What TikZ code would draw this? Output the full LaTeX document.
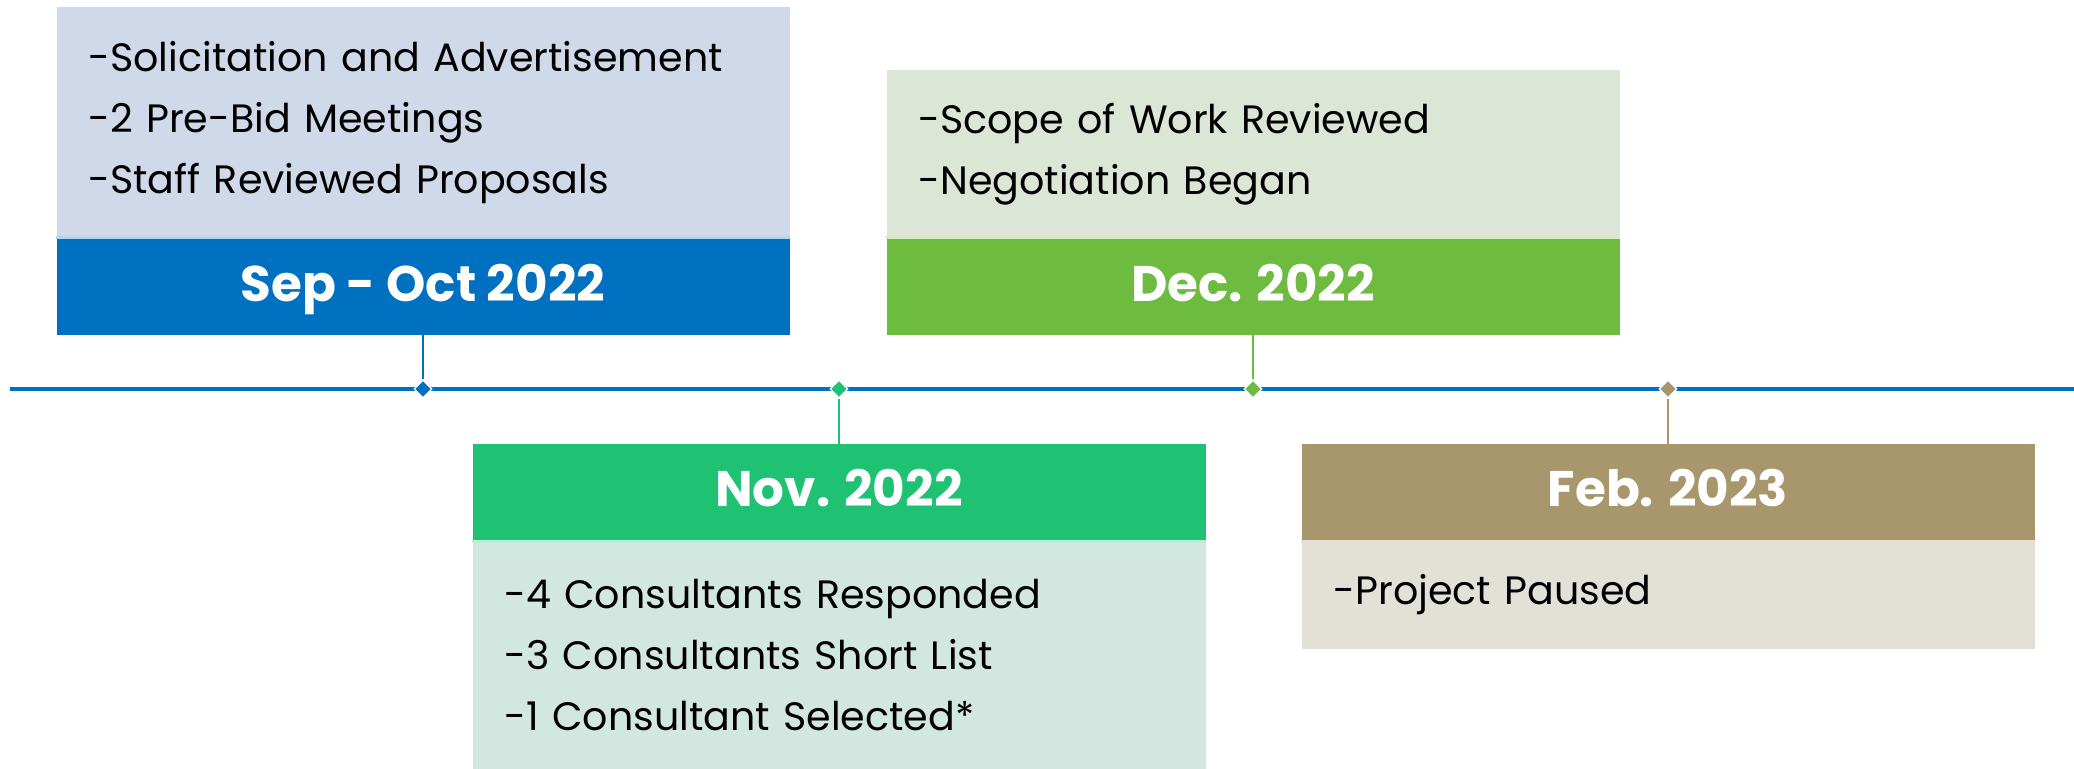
\documentclass[tikz,border=0pt]{standalone}
\usepackage{fontspec}
\setmainfont{Poppins}
\usetikzlibrary{positioning, shapes.geometric}

\definecolor{sepblue}{HTML}{0070C0}
\definecolor{seplight}{HTML}{CFD9EA}
\definecolor{novgreen}{HTML}{1FC173}
\definecolor{novlight}{HTML}{D3E7E1}
\definecolor{decgreen}{HTML}{6DBB3F}
\definecolor{declight}{HTML}{DBE6D6}
\definecolor{febtan}{HTML}{A8976D}
\definecolor{feblight}{HTML}{E3E0D8}

\tikzset{
  band/.style={rectangle, fill=#1, minimum width=366.5pt, minimum height=48pt,
    inner sep=0pt, text=white, text height=14pt, text depth=0pt,
    font=\fontsize{25}{28}\selectfont\bfseries},
  body/.style={rectangle, fill=#1, minimum width=366.5pt, text width=334.5pt,
    inner xsep=16pt, inner ysep=0pt, align=left,
    font=\fontsize{19.8}{30.5}\selectfont},
  tick/.style={diamond, fill=#1, draw=white, line width=0.6pt, inner sep=0pt,
    minimum size=9pt},
  divider/.style={#1!30!white, line width=1.5pt},
}

\begin{document}
\begin{tikzpicture}[x=0.5pt, y=-0.5pt]
  \useasboundingbox (0,0) rectangle (2074,768);
  % timeline
  \coordinate (start) at (10,389);
  \coordinate (end) at (2074,389);
  \draw [sepblue, line width=2pt] (start) -- (end);
  % Sep - Oct
  \node (sepband) at (423,287) [band=sepblue] {Sep - Oct 2022};
  \node (sepbody) [body=seplight, minimum height=115.5pt, above=0pt of sepband]
    {-Solicitation and Advertisement\\-2 Pre-Bid Meetings\\-Staff Reviewed Proposals};
  \draw [divider=sepblue] ([yshift=0.75pt]sepbody.south west) -- ([yshift=0.75pt]sepbody.south east);
  \node (septick) at (423,389) [tick=sepblue] {};
  \draw [sepblue, line width=1pt] (sepband.south) -- (septick.north);
  % Nov
  \node (novband) at (839,492) [band=novgreen] {Nov. 2022};
  \node (novbody) [body=novlight, minimum height=114pt, below=0pt of novband]
    {-4 Consultants Responded\\-3 Consultants Short List\\-1 Consultant Selected*};
  \draw [divider=novgreen] ([yshift=-0.75pt]novbody.north west) -- ([yshift=-0.75pt]novbody.north east);
  \node (novtick) at (839,389) [tick=novgreen] {};
  \draw [novgreen, line width=1pt] (novtick.south) -- (novband.north);
  % Dec
  \node (decband) at (1253,287) [band=decgreen] {Dec. 2022};
  \node (decbody) [body=declight, minimum height=84pt, above=0pt of decband]
    {-Scope of Work Reviewed\\-Negotiation Began};
  \draw [divider=decgreen] ([yshift=0.75pt]decbody.south west) -- ([yshift=0.75pt]decbody.south east);
  \node (dectick) at (1253,389) [tick=decgreen] {};
  \draw [decgreen, line width=1pt] (decband.south) -- (dectick.north);
  % Feb
  \node (febband) at (1668,492) [band=febtan] {Feb. 2023};
  \node (febbody) [body=feblight, minimum height=54pt, below=0pt of febband]
    {-Project Paused};
  \draw [divider=febtan] ([yshift=-0.75pt]febbody.north west) -- ([yshift=-0.75pt]febbody.north east);
  \node (febtick) at (1668,389) [tick=febtan] {};
  \draw [febtan, line width=1pt] (febtick.south) -- (febband.north);
\end{tikzpicture}
\end{document}
